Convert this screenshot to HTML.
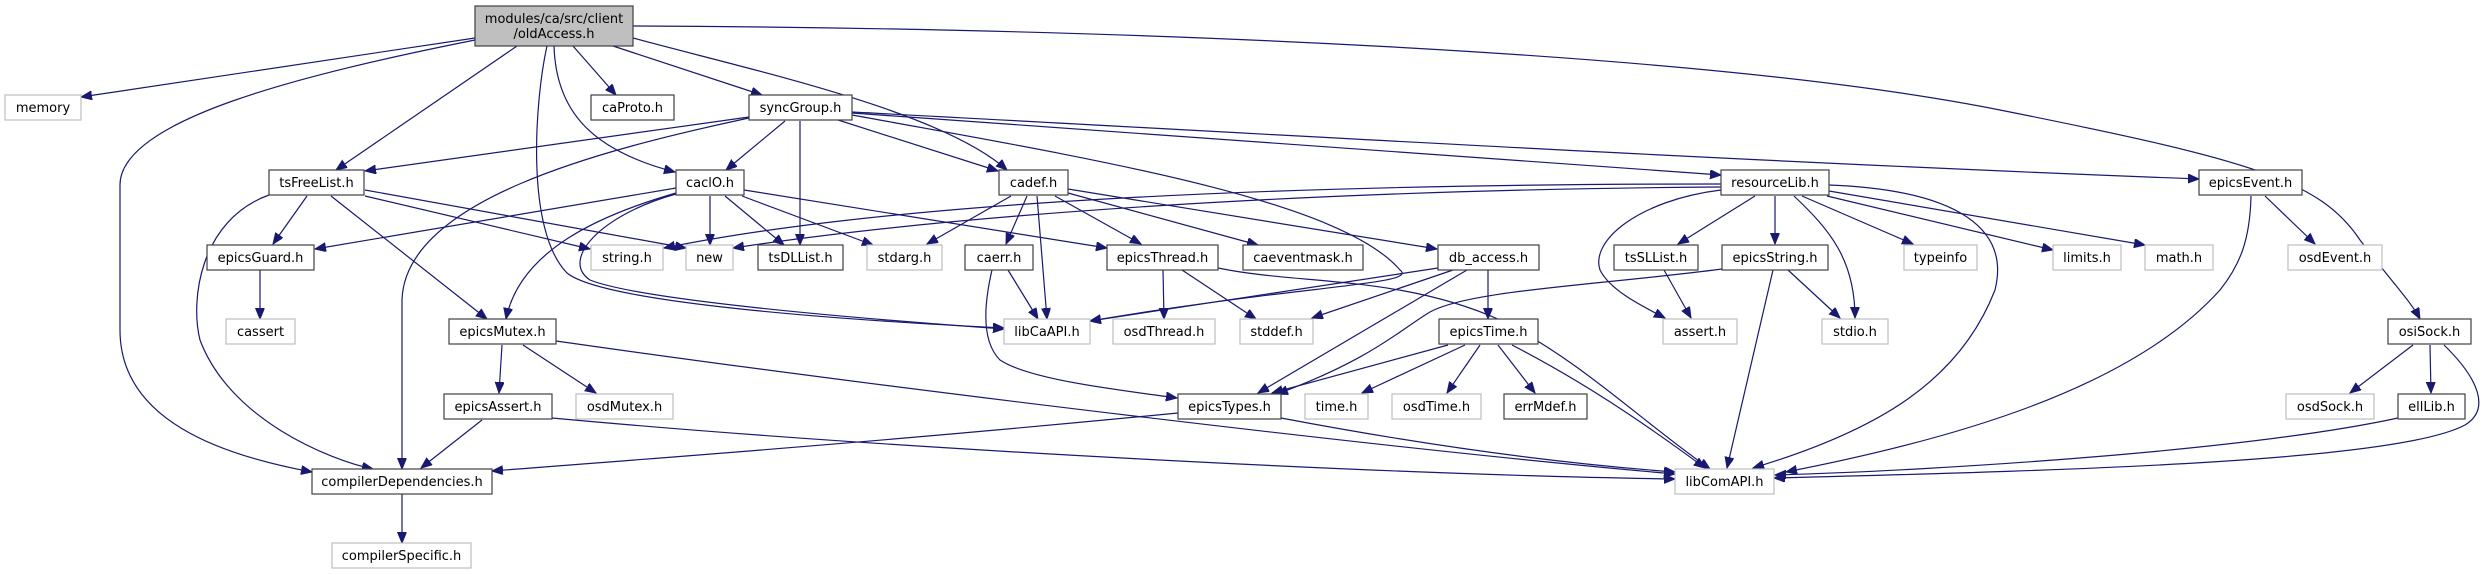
<!DOCTYPE html>
<html><head><meta charset="utf-8"><style>
html,body{margin:0;padding:0;background:#fff;}
svg{display:block;}
text{font-family:"DejaVu Sans","Liberation Sans",sans-serif;font-size:13px;fill:#000;}
.b{fill:#fff;stroke:#404040;stroke-width:1.2;}
.g{fill:#fff;stroke:#bfbfbf;stroke-width:1.2;}
.e{fill:none;stroke:#191970;stroke-width:1.2;marker-end:url(#a);}
</style></head><body>
<svg width="2489" height="575" viewBox="0 0 2489 575" xmlns="http://www.w3.org/2000/svg">
<defs><marker id="a" markerUnits="userSpaceOnUse" markerWidth="12" markerHeight="10" refX="11" refY="4.5" orient="auto"><path d="M0,0 L11,4.5 L0,9 z" fill="#191970" stroke="#191970"/></marker></defs>

<!-- edges -->
<path class="e" d="M475,38 L81,97"/>
<path class="e" d="M475,40 C300,75 120,120 120,185 L120,330 C120,420 220,455 312,472"/>
<path class="e" d="M517,46 L336,170"/>
<path class="e" d="M547,46 C535,100 525,230 567,273 C600,300 800,318 1004,328"/>
<path class="e" d="M573,46 L616,95"/>
<path class="e" d="M554,46 C556,110 590,150 675,172"/>
<path class="e" d="M613,46 L762,95"/>
<path class="e" d="M633,38 C750,70 940,110 1007,170"/>
<path class="e" d="M633,26 C1100,28 1700,50 2000,110 C2250,160 2320,180 2360,240 C2390,280 2410,300 2420,319"/>

<path class="e" d="M749,117 L365,171"/>
<path class="e" d="M749,118 C600,150 405,200 402,300 L402,469"/>
<path class="e" d="M785,121 L726,170"/>
<path class="e" d="M800,121 L800,245"/>
<path class="e" d="M838,120 L998,171"/>
<path class="e" d="M852,113 C1200,140 1500,160 1721,175"/>
<path class="e" d="M852,112 C1200,130 1700,160 2199,179"/>
<path class="e" d="M852,115 C1100,160 1340,200 1400,270 C1420,285 1300,285 1090,321"/>

<path class="e" d="M307,196 L273,244"/>
<path class="e" d="M269,195 C200,220 190,300 200,340 C230,420 330,460 373,469"/>
<path class="e" d="M331,196 L487,319"/>
<path class="e" d="M365,196 L590,249"/>
<path class="e" d="M365,190 L686,248"/>

<path class="e" d="M676,188 L315,249"/>
<path class="e" d="M676,193 C600,215 520,250 506,319"/>
<path class="e" d="M676,194 C600,215 560,260 590,280 C640,300 850,318 1004,329"/>
<path class="e" d="M710,196 L710,245"/>
<path class="e" d="M725,196 L784,245"/>
<path class="e" d="M744,190 L1107,248"/>
<path class="e" d="M742,196 L873,245"/>

<path class="e" d="M1721,184 C1300,184 900,200 664,248"/>
<path class="e" d="M1721,187 C1300,190 950,215 733,248"/>
<path class="e" d="M1721,190 C1640,200 1590,240 1600,270 C1610,290 1640,305 1665,318"/>
<path class="e" d="M1755,196 L1678,244"/>
<path class="e" d="M1775,196 L1775,244"/>
<path class="e" d="M1794,196 C1830,230 1855,260 1855,318"/>
<path class="e" d="M1802,196 L1913,244"/>
<path class="e" d="M1827,196 L2053,250"/>
<path class="e" d="M1829,191 L2145,245"/>
<path class="e" d="M1829,185 C1960,190 2010,230 1995,290 C1960,380 1880,430 1753,468"/>

<path class="e" d="M1773,270 L1727,468"/>
<path class="e" d="M1788,270 L1840,318"/>
<path class="e" d="M1722,269 C1600,285 1470,290 1430,312 C1400,330 1370,360 1277,394"/>
<path class="e" d="M1664,270 L1691,318"/>

<path class="e" d="M2251,196 C2250,240 2240,265 2220,290 C2130,390 1950,440 1786,472"/>
<path class="e" d="M2265,196 L2315,244"/>
<path class="e" d="M2413,345 L2350,393"/>
<path class="e" d="M2430,345 L2431,393"/>
<path class="e" d="M2444,345 C2480,380 2490,410 2465,425 C2400,460 2100,470 1774,478"/>
<path class="e" d="M2398,418 C2250,450 1950,470 1775,475"/>

<path class="e" d="M1011,196 L927,244"/>
<path class="e" d="M1027,196 L1006,244"/>
<path class="e" d="M1037,196 L1047,319"/>
<path class="e" d="M1055,196 L1141,244"/>
<path class="e" d="M1068,193 L1258,245"/>
<path class="e" d="M1068,189 L1437,249"/>

<path class="e" d="M1008,270 L1038,319"/>
<path class="e" d="M992,270 C985,300 980,340 1000,360 C1030,380 1120,390 1177,398"/>

<path class="e" d="M1163,270 L1164,319"/>
<path class="e" d="M1182,270 L1256,319"/>
<path class="e" d="M1218,268 C1300,285 1400,275 1500,320 C1580,360 1640,420 1710,469"/>

<path class="e" d="M1438,268 L1090,321"/>
<path class="e" d="M1453,270 L1312,318"/>
<path class="e" d="M1467,270 L1258,393"/>
<path class="e" d="M1488,270 L1488,319"/>

<path class="e" d="M1448,345 L1272,393"/>
<path class="e" d="M1465,345 L1362,393"/>
<path class="e" d="M1480,345 L1447,393"/>
<path class="e" d="M1498,345 L1535,393"/>
<path class="e" d="M1512,345 C1580,380 1640,420 1705,468"/>

<path class="e" d="M1178,413 C900,440 700,455 492,471"/>
<path class="e" d="M1281,418 C1450,450 1580,465 1675,472"/>

<path class="e" d="M502,345 L499,393"/>
<path class="e" d="M523,345 L596,393"/>
<path class="e" d="M556,341 C900,390 1400,450 1675,474"/>
<path class="e" d="M482,420 L421,468"/>
<path class="e" d="M552,418 C900,450 1400,475 1675,479"/>
<path class="e" d="M260,270 L260,319"/>
<path class="e" d="M402,494 L402,543"/>

<!-- nodes -->
<rect x="475" y="6" width="158" height="40" fill="#bfbfbf" stroke="#404040" stroke-width="1.2"/>
<text x="554" y="23" text-anchor="middle">modules/ca/src/client</text>
<text x="554" y="38" text-anchor="middle">/oldAccess.h</text>

<g text-anchor="middle">
<rect class="g" x="5" y="95" width="76" height="25"/><text x="43" y="112">memory</text>
<rect class="b" x="591" y="95" width="83" height="25"/><text x="632.5" y="112">caProto.h</text>
<rect class="b" x="749" y="95" width="103" height="25"/><text x="800.5" y="112">syncGroup.h</text>

<rect class="b" x="269" y="170" width="95" height="25"/><text x="316.5" y="187">tsFreeList.h</text>
<rect class="b" x="676" y="170" width="68" height="25"/><text x="710" y="187">caclO.h</text>
<rect class="b" x="999" y="170" width="69" height="25"/><text x="1033.5" y="187">cadef.h</text>
<rect class="b" x="1721" y="170" width="108" height="25"/><text x="1775" y="187">resourceLib.h</text>
<rect class="b" x="2199" y="170" width="103" height="25"/><text x="2250.5" y="187">epicsEvent.h</text>

<rect class="b" x="207" y="245" width="107" height="25"/><text x="260.5" y="262">epicsGuard.h</text>
<rect class="g" x="591" y="245" width="72" height="25"/><text x="627" y="262">string.h</text>
<rect class="g" x="686" y="245" width="47" height="25"/><text x="709.5" y="262">new</text>
<rect class="b" x="758" y="245" width="85" height="25"/><text x="800.5" y="262">tsDLList.h</text>
<rect class="g" x="867" y="245" width="75" height="25"/><text x="904.5" y="262">stdarg.h</text>
<rect class="b" x="965" y="245" width="68" height="25"/><text x="999" y="262">caerr.h</text>
<rect class="b" x="1107" y="245" width="111" height="25"/><text x="1162.5" y="262">epicsThread.h</text>
<rect class="b" x="1243" y="245" width="120" height="25"/><text x="1303" y="262">caeventmask.h</text>
<rect class="b" x="1438" y="245" width="101" height="25"/><text x="1488.5" y="262">db_access.h</text>
<rect class="b" x="1614" y="245" width="84" height="25"/><text x="1656" y="262">tsSLList.h</text>
<rect class="b" x="1722" y="245" width="106" height="25"/><text x="1775" y="262">epicsString.h</text>
<rect class="g" x="1904" y="245" width="73" height="25"/><text x="1940.5" y="262">typeinfo</text>
<rect class="g" x="2053" y="245" width="68" height="25"/><text x="2087" y="262">limits.h</text>
<rect class="g" x="2145" y="245" width="68" height="25"/><text x="2179" y="262">math.h</text>
<rect class="g" x="2288" y="245" width="94" height="25"/><text x="2335" y="262">osdEvent.h</text>

<rect class="g" x="226" y="319" width="69" height="25"/><text x="260.5" y="336">cassert</text>
<rect class="b" x="449" y="319" width="107" height="25"/><text x="502.5" y="336">epicsMutex.h</text>
<rect class="g" x="1004" y="319" width="86" height="25"/><text x="1047" y="336">libCaAPI.h</text>
<rect class="g" x="1113" y="319" width="102" height="25"/><text x="1164" y="336">osdThread.h</text>
<rect class="g" x="1240" y="319" width="73" height="25"/><text x="1276.5" y="336">stddef.h</text>
<rect class="b" x="1439" y="319" width="99" height="25"/><text x="1488.5" y="336">epicsTime.h</text>
<rect class="g" x="1663" y="319" width="74" height="25"/><text x="1700" y="336">assert.h</text>
<rect class="g" x="1822" y="319" width="66" height="25"/><text x="1855" y="336">stdio.h</text>
<rect class="b" x="2388" y="319" width="83" height="25"/><text x="2429.5" y="336">osiSock.h</text>

<rect class="b" x="444" y="394" width="108" height="25"/><text x="498" y="411">epicsAssert.h</text>
<rect class="g" x="576" y="394" width="97" height="25"/><text x="624.5" y="411">osdMutex.h</text>
<rect class="b" x="1178" y="394" width="103" height="25"/><text x="1229.5" y="411">epicsTypes.h</text>
<rect class="g" x="1305" y="394" width="63" height="25"/><text x="1336.5" y="411">time.h</text>
<rect class="g" x="1392" y="394" width="89" height="25"/><text x="1436.5" y="411">osdTime.h</text>
<rect class="b" x="1504" y="394" width="83" height="25"/><text x="1545.5" y="411">errMdef.h</text>
<rect class="g" x="2286" y="394" width="88" height="25"/><text x="2330" y="411">osdSock.h</text>
<rect class="b" x="2398" y="394" width="67" height="25"/><text x="2431.5" y="411">ellLib.h</text>

<rect class="b" x="312" y="469" width="180" height="25"/><text x="402" y="486">compilerDependencies.h</text>
<rect class="g" x="1675" y="469" width="99" height="25"/><text x="1724.5" y="486">libComAPI.h</text>

<rect class="g" x="332" y="543" width="139" height="25"/><text x="401.5" y="560">compilerSpecific.h</text>
</g>
</svg>
</body></html>
